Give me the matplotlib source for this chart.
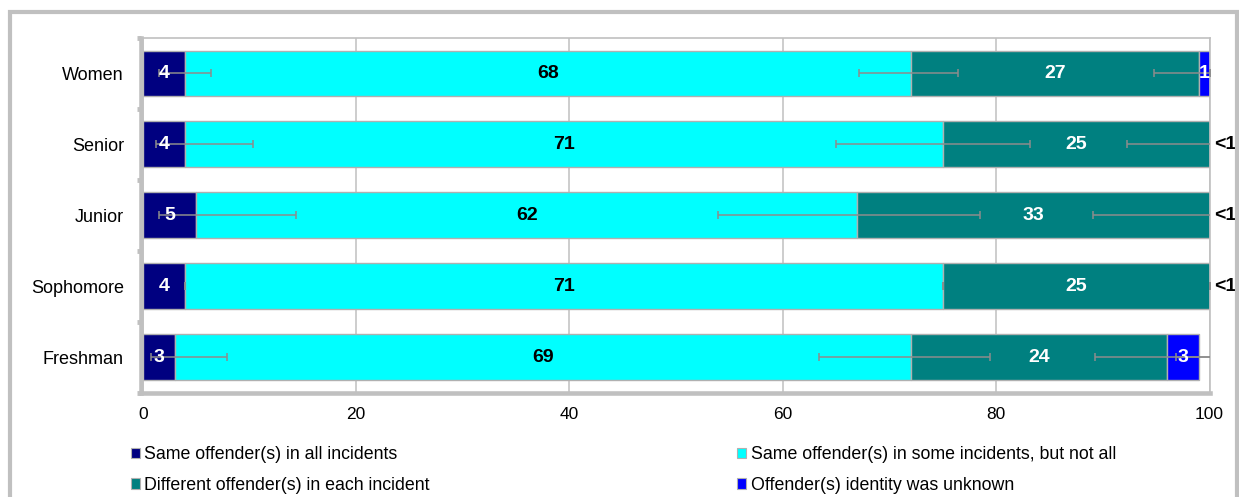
import numpy as np
import matplotlib
matplotlib.use('Agg')
import matplotlib.pyplot as plt
from matplotlib.patches import Rectangle, Patch

plt.rcParams['font.family'] = ['Liberation Sans', 'DejaVu Sans']

groups = ['Women', 'Senior', 'Junior', 'Sophomore', 'Freshman']
series_names = ['Same offender(s) in all incidents',
                'Same offender(s) in some incidents, but not all',
                'Different offender(s) in each incident',
                'Offender(s) identity was unknown']
same_all = [4, 4, 5, 4, 3]
same_some = [68, 71, 62, 71, 69]
different = [27, 25, 33, 25, 24]
unknown = [1, 0.4, 0.4, 0.4, 3]  # values under 1 are printed as "<1"

# error extents (below, above), drawn at the right end of each segment
same_all_err = [[2.5, 2.75, 3.5, 0, 2.2], [2.4, 6.3, 9.4, 0, 4.9]]
same_some_err = [[4.9, 10.0, 13.1, 0, 8.6], [4.4, 8.2, 11.5, 0, 7.4]]
different_err = [[4.2, 7.7, 10.9, 0, 6.7], [4.0, 7.0, 10.0, 0, 6.0]]
unknown_err = [[0, 0, 0, 0, 2.1], [0, 0, 0, 0, 2.0]]

colors = ['#000080', '#00ffff', '#008080', '#0000ff']
label_colors = ['white', 'black', 'white', 'white']
series = [same_all, same_some, different, unknown]
errors = [same_all_err, same_some_err, different_err, unknown_err]
grey = '#c0c0c0'

fig = plt.figure(figsize=(12.39, 4.97), dpi=100)
ax = fig.add_axes([0.1152, 0.2099, 0.9762 - 0.1152, 0.9241 - 0.2099])

y = np.arange(len(groups))
left = np.zeros(len(groups))
ends = []
for vals, col in zip(series, colors):
    vals = np.array(vals, dtype=float)
    ax.barh(y, vals, left=left, height=0.64, color=col,
            edgecolor='#b0b0b0', linewidth=1.0, zorder=2)
    left = left + vals
    ends.append(left.copy())

# error bars on top of every segment
for end, err in zip(ends, errors):
    ax.errorbar(end, y, xerr=np.array(err), fmt='none', ecolor='#8c8c8c',
                elinewidth=1.1, capsize=3, capthick=1.1, zorder=3)

# value labels
start = np.zeros(len(groups))
for vals, tc in zip(series, label_colors):
    for i, v in enumerate(vals):
        if v < 1:
            ax.text(start[i] + v, y[i], '<1', ha='left', va='center',
                    fontsize=14, fontweight='bold', color='black', zorder=4)
        else:
            ax.text(start[i] + v / 2, y[i], '{:.0f}'.format(v), ha='center',
                    va='center', fontsize=14, fontweight='bold', color=tc,
                    zorder=4)
    start = start + np.array(vals, dtype=float)

ax.set_xlim(0, 100)
ax.set_ylim(len(groups) - 0.5, -0.5)
ax.set_xticks([0, 20, 40, 60, 80, 100])
ax.tick_params(axis='x', length=0, pad=10, labelsize=12.5, colors='black')
ax.set_yticks(np.arange(-0.5, len(groups), 1))
ax.set_yticklabels([])
ax.set_yticks(y, minor=True)
ax.set_yticklabels(groups, minor=True)
ax.tick_params(axis='y', which='major', length=3, width=3.5, color=grey)
ax.tick_params(axis='y', which='minor', length=0, pad=12, labelsize=13)
ax.grid(axis='x', color=grey, linewidth=1.1, zorder=0)
ax.set_axisbelow(True)

for side in ['top', 'right']:
    ax.spines[side].set_color(grey)
    ax.spines[side].set_linewidth(1.2)
for side in ['left', 'bottom']:
    ax.spines[side].set_color(grey)
    ax.spines[side].set_linewidth(3.3)
ax.spines['left'].set_position(('outward', 1.5))

handles = [Patch(facecolor=c, edgecolor='#b0b0b0', linewidth=0.8) for c in colors]
order = [0, 2, 1, 3]
fig.legend([handles[k] for k in order], [series_names[k] for k in order],
           ncol=2, loc='upper left', bbox_to_anchor=(131.0 / 1239, 1 - 446 / 497),
           frameon=False, fontsize=12.8, borderpad=0, borderaxespad=0,
           handlelength=0.5, handleheight=0.5, handletextpad=0.25,
           columnspacing=17.3, labelspacing=0.78)

# chart border
fig.patches.append(Rectangle((9.8 / 1239, -0.2), (1237 - 9.8) / 1239, 1.2 - 11.5 / 497,
                             transform=fig.transFigure, fill=False,
                             edgecolor=grey, linewidth=3.0))

fig.savefig('out.png', dpi=100)
